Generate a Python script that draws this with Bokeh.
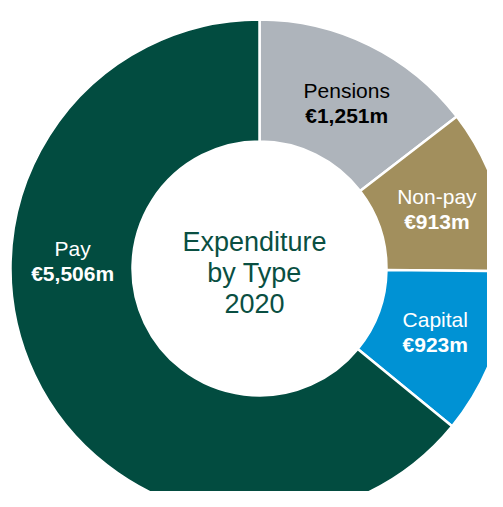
import math
from bokeh.plotting import figure
from bokeh.models import Range1d, ColumnDataSource
from bokeh.core.properties import value
from bokeh.embed import file_html
from bokeh.resources import INLINE

# ---- data ----
categories = ["Pensions", "Non-pay", "Capital", "Pay"]
amounts = [1251, 913, 923, 5506]
value_labels = ["€1,251m", "€913m", "€923m", "€5,506m"]
colors = ["#AEB4BB", "#A28F5D", "#0092D4", "#024C40"]
label_colors = ["#000000", "#FFFFFF", "#FFFFFF", "#FFFFFF"]
center_lines = ["Expenditure", "by Type", "2020"]

# ---- layout ----
W, H = 487, 491
cx, cy = 259, H - 268
r_in, r_out = 127, 249
r_lab = 187
label_angle_override = {"Pensions": 27.8, "Pay": 272.2}  # degrees clockwise from top

p = figure(width=W, height=H, output_backend="svg", toolbar_location=None,
           x_range=Range1d(0, W), y_range=Range1d(0, H),
           min_border=0, outline_line_color=None)
p.axis.visible = False
p.grid.visible = False
p.background_fill_color = "white"

total = float(sum(amounts))
starts, ends, lab_x, lab_y = [], [], [], []
cum = 0.0
for cat, a in zip(categories, amounts):
    a0 = cum / total * 2 * math.pi
    cum += a
    a1 = cum / total * 2 * math.pi
    starts.append(math.pi / 2 - a0)
    ends.append(math.pi / 2 - a1)
    mid = (a0 + a1) / 2
    if cat in label_angle_override:
        mid = math.radians(label_angle_override[cat])
    lab_x.append(cx + r_lab * math.sin(mid))
    lab_y.append(cy + r_lab * math.cos(mid))

src = ColumnDataSource(dict(start=starts, end=ends, color=colors))
p.annular_wedge(x=cx, y=cy, inner_radius=r_in, outer_radius=r_out,
                start_angle="start", end_angle="end", direction="clock",
                fill_color="color", line_color="white", line_width=2.5,
                source=src)

lsrc = ColumnDataSource(dict(
    x=lab_x, y_name=[y + 12.5 for y in lab_y], y_val=[y - 12.5 for y in lab_y],
    name=categories, val=value_labels, tc=label_colors))
p.text(x="x", y="y_name", text="name", source=lsrc, text_color="tc",
       text_font=value("Liberation Sans"), text_font_size="21px",
       text_align="center", text_baseline="middle")
p.text(x="x", y="y_val", text="val", source=lsrc, text_color="tc",
       text_font=value("Liberation Sans"), text_font_size="21px",
       text_font_style="bold", text_align="center", text_baseline="middle")

ctr_y = [cy - 4 + 30.5 - 30.5 * i for i in range(len(center_lines))]
p.text(x=[cx - 5] * len(center_lines), y=ctr_y, text=center_lines,
       text_color="#0A4F42", text_font=value("Liberation Sans"),
       text_font_size="27px", text_align="center", text_baseline="middle")

open("out.html", "w").write(file_html(p, INLINE))
